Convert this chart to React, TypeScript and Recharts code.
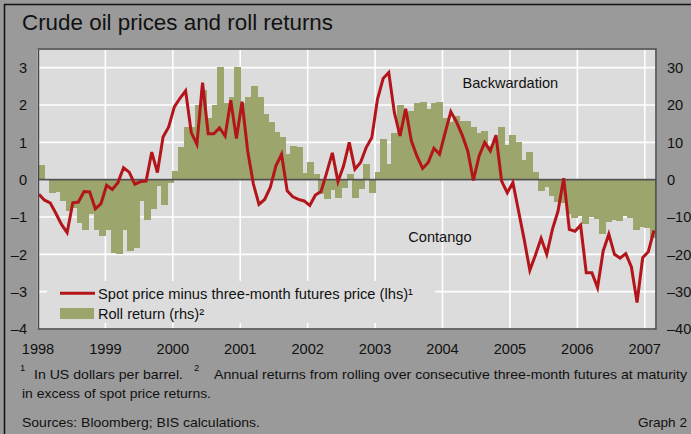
import React from "react";
import { ComposedChart, Bar, Line, XAxis, YAxis, CartesianGrid, ReferenceLine } from "recharts";

const FONT = "'Liberation Sans', Arial, Helvetica, sans-serif";

// Year tick labels (x axis)
const yearLabels = ["1998", "1999", "2000", "2001", "2002", "2003", "2004", "2005", "2006", "2007"];
// Monthly, Jan 1998 .. Feb 2007
// Spot price minus three-month futures price (lhs), USD per barrel
const spotMinusFutures = [
  -0.39, -0.55, -0.62, -0.9, -1.2, -1.42, -0.62, -0.6, -0.32, -0.33, -0.78, -0.64,
  -0.15, -0.26, -0.08, 0.32, 0.2, -0.12, -0.05, -0.04, 0.74, 0.19, 1.14, 1.41,
  1.95, 2.18, 2.38, 1.26, 0.95, 2.6, 1.23, 1.23, 1.39, 1.17, 2.13, 1.1,
  2.09, 0.77, -0.11, -0.66, -0.53, -0.21, 0.37, 0.68, -0.3, -0.46, -0.53, -0.57,
  -0.69, -0.41, -0.32, 0.19, 0.72, -0.05, 0.37, 1.0, 0.28, 0.46, 0.86, 1.13,
  2.15, 2.71, 2.87, 1.79, 1.17, 1.9, 1.04, 0.63, 0.3, 0.46, 0.84, 0.68,
  1.26, 1.82, 1.55, 1.2, 0.77, -0.02, 0.63, 1.0, 0.77, 1.19, -0.04, -0.35,
  -0.08, -0.84, -1.6, -2.43, -2.02, -1.57, -2.0, -1.33, -0.84, 0.04, -1.33, -1.38,
  -1.22, -2.49, -2.49, -2.89, -1.91, -1.46, -2.0, -2.1, -1.98, -2.34, -3.29, -2.09,
  -1.93, -1.36,
];
// Roll return (rhs), %
const rollReturn = [
  4, 0, -3.7, -3.3, -5.7, -8.3, -7.5, -11.7, -13.4, -9.3, -13.6, -15.2,
  -13.6, -19.7, -20, -13.4, -19.1, -18.2, -5.8, -10.9, -7.9, -1.8, -6.8, -1,
  2.3, 8.8, 14.2, 14.2, 20, 24, 16.6, 20, 30.3, 20.6, 22.1, 30.3,
  20.6, 22.1, 25, 22.1, 17.7, 15.5, 12.9, 11.4, 6.8, 9, 8.8, 1.9,
  4.6, 1.4, -3.9, -5.3, -2.9, -5, -2.1, 1.6, -5, -2.6, 4.3, -3.7,
  2.1, 11, 4.3, 12.6, 20, 18.2, 18.3, 20.6, 20.9, 19, 20.6, 20.9,
  16.4, 15.5, 17, 15.7, 15.7, 14.1, 12.5, 13, 9, 10.5, 14.1, 9.2,
  12, 10.2, 5.2, 7.4, 2.1, -3, -2, -4.5, -6, -6.2, -9.3, -10.2,
  -9.7, -11.8, -10, -10.6, -14.6, -11.3, -10.9, -11.1, -9.7, -10.2, -13.6, -12.7,
  -12.9, -15.7,
];
const lhsTicks = [-4, -3, -2, -1, 0, 1, 2, 3];
const rhsTicks = [-40, -30, -20, -10, 0, 10, 20, 30];
const yearTicks = yearLabels.map((_, i) => i * 12);

const data = spotMinusFutures.map((v, i) => ({ xb: i + 0.5, xl: i, spread: v, roll: rollReturn[i] }));

const fmt = (v: number) => (v < 0 ? "\u2013" + Math.abs(v) : String(v));

const LeftTick = (p: any) => (
  <text x={27} y={p.y} dy={5.3} textAnchor="end" fontSize={14.6} fill="#111" fontFamily={FONT}>
    {fmt(p.payload.value)}
  </text>
);
const RightTick = (p: any) => (
  <text x={667} y={p.y} dy={5.3} textAnchor="start" fontSize={14.6} fill="#111" fontFamily={FONT}>
    {fmt(p.payload.value)}
  </text>
);
const BottomTick = (p: any) => (
  <text x={p.x} y={354} textAnchor="middle" fontSize={14.6} fill="#111" fontFamily={FONT}>
    {yearLabels[Math.round(p.payload.value / 12)]}
  </text>
);

const RED = "#b3151b";
const OLIVE = "#9ca56c";

// Bar shape slightly widened so adjacent monthly bars join without seams
const JoinedBar = (p: any) => {
  const { x, y, width, height } = p;
  if (width == null || height == null) return null;
  const top = height < 0 ? y + height : y;
  const h = Math.abs(height);
  return <rect x={x - 0.5} y={top} width={width + 1} height={h} fill={OLIVE} shapeRendering="crispEdges" />;
};

export default function App() {
  return (
    <div style={{ position: "fixed", left: 0, top: 0, width: 691, height: 434, background: "#9a9a9a", overflow: "hidden" }}>
      <div style={{ position: "absolute", left: 0, top: 0 }}>
        <ComposedChart
          width={691}
          height={434}
          data={data}
          margin={{ top: 49, right: 0, bottom: 0, left: 0 }}
          barCategoryGap={0}
          barGap={0}
        >
          <CartesianGrid yAxisId="left" stroke="#ffffff" strokeWidth={1.6} fill="#dcdcdc" fillOpacity={1} />
          <XAxis
            dataKey="xb"
            type="number"
            domain={[0, 110]}
            ticks={yearTicks}
            height={105}
            axisLine={false}
            tickLine={false}
            tick={<BottomTick />}
            allowDataOverflow
            interval={0}
          />
          <XAxis xAxisId="l" dataKey="xl" type="number" domain={[-0.16, 109.36]} hide allowDataOverflow />
          <YAxis
            yAxisId="left"
            domain={[-4, 3.5]}
            ticks={lhsTicks}
            width={38}
            axisLine={false}
            tickLine={false}
            tick={<LeftTick />}
            allowDataOverflow
            interval={0}
          />
          <YAxis
            yAxisId="right"
            orientation="right"
            domain={[-40, 35]}
            ticks={rhsTicks}
            width={35}
            axisLine={false}
            tickLine={false}
            tick={<RightTick />}
            allowDataOverflow
            interval={0}
          />
          <Bar yAxisId="right" dataKey="roll" fill={OLIVE} shape={JoinedBar} isAnimationActive={false} />
          <ReferenceLine yAxisId="left" y={0} stroke="#505050" strokeWidth={1.6} />
          <Line
            xAxisId="l"
            yAxisId="left"
            dataKey="spread"
            type="linear"
            stroke={RED}
            strokeWidth={3}
            dot={false}
            isAnimationActive={false}
          />
        </ComposedChart>
      </div>
      <svg width={691} height={434} style={{ position: "absolute", left: 0, top: 0, pointerEvents: "none" }} fontFamily={FONT}>
        <rect x={4.5} y={4.5} width={720} height={460} fill="none" stroke="#111" strokeWidth={1.5} />
        <text x={22} y={30} fontSize={21.5} fill="#111" textLength={311} lengthAdjust="spacingAndGlyphs">
          Crude oil prices and roll returns
        </text>
        <rect x={38.4} y={49} width={617.6} height={280} fill="none" stroke="#454545" strokeWidth={1.6} />
        {/* legend */}
        <rect x={47} y={281} width={388} height={42} fill="#dcdcdc" />
        <line x1={60} x2={95} y1={293.3} y2={293.3} stroke={RED} strokeWidth={3} />
        <text x={98} y={298.5} fontSize={14.6} fill="#111" textLength={315} lengthAdjust="spacingAndGlyphs">
          Spot price minus three-month futures price (lhs)¹
        </text>
        <rect x={60} y={308} width={34} height={11} fill={OLIVE} />
        <text x={98} y={318.5} fontSize={14.6} fill="#111" textLength={106} lengthAdjust="spacingAndGlyphs">
          Roll return (rhs)²
        </text>
        <text x={462.5} y={87.5} fontSize={14.6} fill="#111">Backwardation</text>
        <text x={408.3} y={241.5} fontSize={14.6} fill="#111">Contango</text>
        {/* footnotes */}
        <text x={20} y={371} fontSize={9.5} fill="#111">1</text>
        <text x={34} y={378.5} fontSize={13.6} fill="#111" textLength={149} lengthAdjust="spacingAndGlyphs">In US dollars per barrel.</text>
        <text x={194} y={371} fontSize={9.5} fill="#111">2</text>
        <text x={214} y={378.5} fontSize={13.6} fill="#111" textLength={473} lengthAdjust="spacingAndGlyphs">
          Annual returns from rolling over consecutive three-month futures at maturity
        </text>
        <text x={22} y={398} fontSize={13.6} fill="#111" textLength={189} lengthAdjust="spacingAndGlyphs">in excess of spot price returns.</text>
        <text x={22} y={426.5} fontSize={13.6} fill="#111" textLength={238} lengthAdjust="spacingAndGlyphs">Sources: Bloomberg; BIS calculations.</text>
        <text x={687} y={426.5} fontSize={13.6} fill="#111" textAnchor="end">Graph 2</text>
      </svg>
    </div>
  );
}
